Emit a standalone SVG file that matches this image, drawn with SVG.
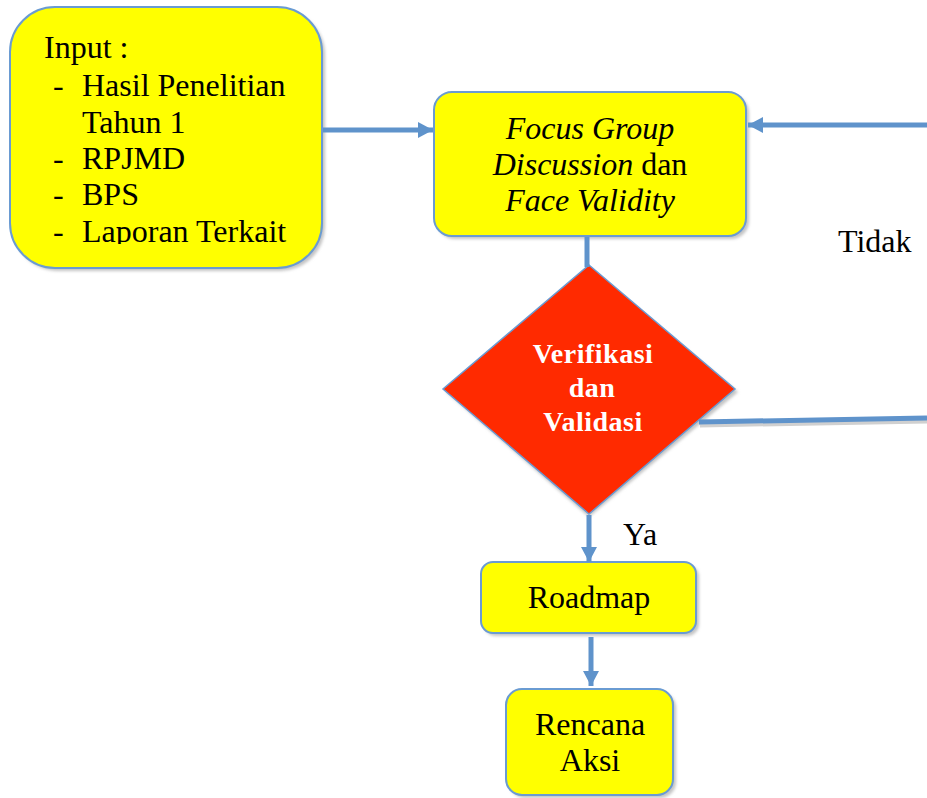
<svg xmlns="http://www.w3.org/2000/svg" width="927" height="798" viewBox="0 0 927 798">
<defs>
<style>
.box{fill:#ffff00;stroke:#6a9bd2;stroke-width:2}
.shadow{fill:#c4c4c4;filter:url(#blur)}
.t{font-family:"Times New Roman","Liberation Serif","DejaVu Serif",serif;font-size:32px;font-weight:normal;fill:#000000}
.c{text-anchor:middle}
.w{font-family:"Times New Roman","Liberation Serif","DejaVu Serif",serif;font-size:28px;font-weight:bold;fill:#ffffff;text-anchor:middle;letter-spacing:0.5px}
.conn{stroke:#5f93cb;stroke-width:5;fill:none}
.cshadow{stroke:#d0d0d0;stroke-width:5;fill:none}
</style>
<filter id="blur" x="-10%" y="-10%" width="120%" height="120%"><feGaussianBlur stdDeviation="1.5"/></filter>
<marker id="ah" markerUnits="userSpaceOnUse" markerWidth="16" markerHeight="16" refX="15" refY="8" orient="auto">
<path d="M0,0 L15,8 L0,16 Z" fill="#5f93cb"/>
</marker>
<clipPath id="inclip"><rect x="0" y="0" width="330" height="244"/></clipPath>
</defs>

<g id="input">
<rect class="shadow" x="13" y="10" width="312" height="261" rx="45"/>
<rect class="box" x="10" y="7" width="312" height="261" rx="45"/>
<g clip-path="url(#inclip)">
<text class="t" x="44" y="58">Input :</text>
<text class="t" x="53" y="96">-</text><text class="t" x="82" y="96">Hasil Penelitian</text>
<text class="t" x="82" y="133">Tahun 1</text>
<text class="t" x="53" y="169">-</text><text class="t" x="82" y="169">RPJMD</text>
<text class="t" x="53" y="205">-</text><text class="t" x="82" y="205">BPS</text>
<text class="t" x="53" y="242">-</text><text class="t" x="82" y="242">Laporan Terkait</text>
</g>
</g>

<g id="fgd">
<rect class="shadow" x="437" y="95" width="312" height="144" rx="18"/>
<rect class="box" x="434" y="92" width="312" height="144" rx="18"/>
<text class="t c" x="590" y="139" font-style="italic">Focus Group</text>
<text class="t c" x="590" y="175"><tspan font-style="italic">Discussion</tspan> dan</text>
<text class="t c" x="590" y="211" font-style="italic">Face Validity</text>
</g>

<g id="verifikasi">
<polygon class="shadow" points="589,268 738,392 589,517 446,392"/>
<polygon points="589,265 735,389 589,514 443,389" fill="#ff2a00" stroke="#6a9bd2" stroke-width="1.5"/>
<text class="w" x="593" y="363">Verifikasi</text>
<text class="w" x="592" y="397">dan</text>
<text class="w" x="593" y="431">Validasi</text>
</g>

<g id="roadmap">
<rect class="shadow" x="484" y="565" width="215" height="71" rx="12"/>
<rect class="box" x="481" y="562" width="215" height="71" rx="12"/>
<text class="t c" x="589" y="608">Roadmap</text>
</g>

<g id="rencana">
<rect class="shadow" x="509" y="692" width="167" height="106" rx="16"/>
<rect class="box" x="506" y="689" width="167" height="106" rx="16"/>
<text class="t c" x="590" y="735">Rencana</text>
<text class="t c" x="590" y="771">Aksi</text>
</g>

<g id="connectors">
<line class="cshadow" x1="700" y1="425" x2="927" y2="421"/>
<line class="conn" x1="323" y1="130" x2="433" y2="130" marker-end="url(#ah)"/>
<line class="conn" x1="927" y1="125" x2="748" y2="125" marker-end="url(#ah)"/>
<line class="conn" x1="587" y1="237" x2="587" y2="267"/>
<line class="conn" x1="699" y1="422" x2="927" y2="418"/>
<line class="conn" x1="589" y1="515" x2="589" y2="562" marker-end="url(#ah)"/>
<line class="conn" x1="591" y1="637" x2="591" y2="686" marker-end="url(#ah)"/>
</g>

<g id="labels">
<text class="t" x="838" y="252">Tidak</text>
<text class="t" x="623" y="545">Ya</text>
</g>
</svg>
